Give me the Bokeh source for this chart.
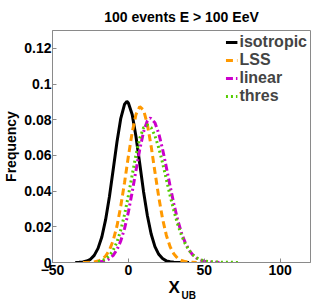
from bokeh.plotting import figure
from bokeh.models import FixedTicker, LinearAxis, Legend, LegendItem, Range1d, Title
from bokeh.embed import file_html
from bokeh.resources import INLINE

# ---- data ----
title_text = "100 events E > 100 EeV"
series_names = ["isotropic", "LSS", "linear", "thres"]

x_iso = [-35, -32.5, -30, -27.5, -25, -22.5, -20, -17.5, -15, -12.5, -10, -7.5, -5, -2.5, -1,
         0, 2.5, 5, 7.5, 10, 12.5, 15, 17.5, 20, 22.5, 25, 27.5, 30, 32.5, 35, 37.5, 40]
y_iso = [0.0000, 0.0001, 0.0003, 0.0008, 0.0018, 0.0040, 0.0079, 0.0143, 0.0240, 0.0368, 0.0521,
         0.0677, 0.0808, 0.0887, 0.0903, 0.0894, 0.0829, 0.0706, 0.0553, 0.0397, 0.0263, 0.0160,
         0.0089, 0.0046, 0.0022, 0.0009, 0.0004, 0.0001, 0.0000, 0.0000, 0.0000, 0.0000]

x_lss = [-30, -27.5, -25, -22.5, -20, -17.5, -15, -12.5, -10, -7.5, -5, -2.5, 0, 2.5, 5, 7.5,
         10, 12.5, 15, 17.5, 20, 22.5, 25, 27.5, 30, 32.5, 35, 37.5, 40, 42.5, 45]
y_lss = [0.0000, 0.0000, 0.0001, 0.0003, 0.0008, 0.0017, 0.0036, 0.0069, 0.0123, 0.0205, 0.0316,
         0.0450, 0.0595, 0.0729, 0.0829, 0.0874, 0.0854, 0.0775, 0.0651, 0.0507, 0.0367, 0.0246,
         0.0153, 0.0088, 0.0047, 0.0023, 0.0011, 0.0005, 0.0002, 0.0001, 0.0000]

x_lin = [-20, -17.5, -15, -12.5, -10, -7.5, -5, -2.5, 0, 2.5, 5, 7.5, 10, 12.5, 14.5, 17.5, 20,
         22.5, 25, 27.5, 30, 32.5, 35, 37.5, 40, 42.5, 45, 47.5, 50, 52.5, 55, 57.5, 60]
y_lin = [0.0002, 0.0005, 0.0010, 0.0021, 0.0040, 0.0072, 0.0121, 0.0191, 0.0283, 0.0394, 0.0516,
         0.0634, 0.0732, 0.0794, 0.0810, 0.0783, 0.0723, 0.0636, 0.0534, 0.0428, 0.0327, 0.0238,
         0.0165, 0.0110, 0.0069, 0.0042, 0.0024, 0.0013, 0.0007, 0.0004, 0.0002, 0.0001, 0.0000]

x_thr = [-20, -17.5, -15, -12.5, -10, -7.5, -5, -2.5, 0, 2.5, 5, 7.5, 10, 12.5, 15, 17.5, 20,
         22.5, 25, 27.5, 30, 32.5, 35, 37.5, 40, 42.5, 45, 47.5, 50, 52.5, 55, 57.5, 60, 62.5,
         65, 67.5, 70, 72.5]
y_thr = [0.0005, 0.0010, 0.0020, 0.0038, 0.0069, 0.0115, 0.0182, 0.0269, 0.0375, 0.0490, 0.0603,
         0.0696, 0.0755, 0.0770, 0.0755, 0.0711, 0.0643, 0.0559, 0.0467, 0.0375, 0.0289, 0.0214,
         0.0152, 0.0104, 0.0068, 0.0043, 0.0026, 0.0015, 0.0009, 0.0006, 0.0004, 0.0003, 0.0002,
         0.0002, 0.0001, 0.0001, 0.0001, 0.0000]

x_ticks = [-50, 0, 50, 100]
y_ticks = [0, 0.02, 0.04, 0.06, 0.08, 0.1, 0.12]
y_tick_labels = ["0", "0.02", "0.04", "0.06", "0.08", "0.1", "0.12"]

# ---- styling ----
FONT = "Liberation Sans"
AX = "#8a8a8a"

p = figure(width=312, height=303, output_backend="svg", toolbar_location=None,
           x_range=Range1d(-50, 120), y_range=Range1d(0, 0.13),
           min_border_left=51, min_border_right=2, min_border_top=29, min_border_bottom=41,
           x_axis_location=None, y_axis_location=None)
p.grid.visible = False
p.outline_line_color = AX
p.outline_line_width = 1
p.background_fill_color = "white"
p.border_fill_color = "white"

p.title.text = title_text
p.title.align = "center"
p.title.text_font = FONT
p.title.text_font_style = "bold"
p.title.text_font_size = "14px"
p.title.text_color = "black"
p.title.standoff = 12


def style_axis(ax):
    ax.axis_line_color = AX
    ax.major_tick_line_color = AX
    ax.minor_tick_line_color = None
    ax.major_tick_in = 4
    ax.major_tick_out = 0
    ax.major_label_text_font = FONT
    ax.major_label_text_font_style = "bold"
    ax.major_label_text_color = "black"
    ax.major_label_text_font_size = "14px"
    ax.major_label_standoff = 2
    ax.axis_label_text_font = FONT
    ax.axis_label_text_font_style = "bold"
    ax.axis_label_text_color = "black"


xb = LinearAxis(ticker=FixedTicker(ticks=x_ticks))
style_axis(xb)
xb.major_label_overrides = {t: ("\u2212" + str(-t) if t < 0 else str(t)) for t in x_ticks}
p.add_layout(xb, "below")

x_title = Title(text="X", align="left", offset=116, text_font=FONT, text_font_style="bold",
                text_font_size="17px", text_color="black", standoff=-3, text_line_height=1.0)
p.add_layout(x_title, "below")
ub_title = Title(text="UB", align="left", offset=129, text_font=FONT, text_font_style="bold",
                 text_font_size="10px", text_color="black", standoff=-12, text_line_height=1.0,
                 vertical_align="top")
p.add_layout(ub_title, "below")

yl = LinearAxis(ticker=FixedTicker(ticks=y_ticks), axis_label="Frequency")
style_axis(yl)
yl.major_label_overrides = dict(zip(y_ticks, y_tick_labels))
yl.axis_label_text_font_size = "14px"
yl.axis_label_standoff = 2
yl.major_label_standoff = 1
p.add_layout(yl, "left")

r_iso = p.line(x_iso, y_iso, line_color="black", line_width=3)
r_lss = p.line(x_lss, y_lss, line_color="#ff9900", line_width=3, line_dash="7 4")
r_lin = p.line(x_lin, y_lin, line_color="#cc00cc", line_width=3, line_dash="7 3 2 3")
r_thr = p.line(x_thr, y_thr, line_color="#55cc00", line_width=3, line_dash="2 3")

legend = Legend(items=[LegendItem(label=n, renderers=[r]) for n, r in
                       zip(series_names, [r_iso, r_lss, r_lin, r_thr])],
                location="top_right")
legend.label_text_font = FONT
legend.label_text_font_style = "bold"
legend.label_text_font_size = "16px"
legend.border_line_color = None
legend.background_fill_alpha = 0
legend.glyph_width = 12
legend.glyph_height = 18
legend.label_height = 18
legend.label_standoff = 2
legend.spacing = 0
legend.padding = 0
legend.margin = 3
p.add_layout(legend)

open("out.html", "w").write(file_html(p, INLINE))
